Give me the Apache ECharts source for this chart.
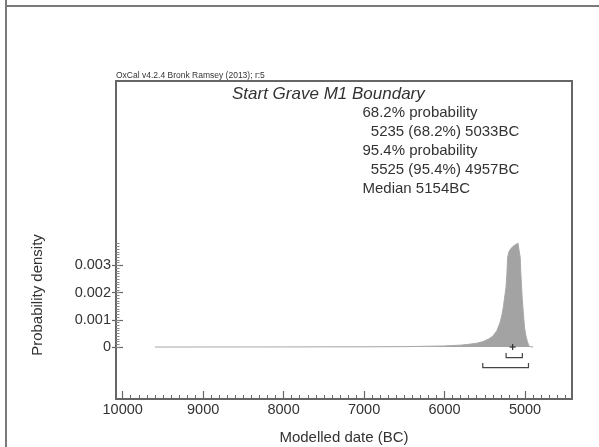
<!DOCTYPE html>
<html><head><meta charset="utf-8">
<script src="https://cdn.jsdelivr.net/npm/echarts@6/dist/echarts.min.js"></script>
<style>html,body{margin:0;padding:0;background:#fff}#c{width:599px;height:447px}</style>
</head><body><div id="c"></div>
<script>
// ---- data ----
const dates = [9599, 9000, 8000, 7000, 6500, 6200, 6000, 5800, 5700, 5600, 5520, 5450, 5400, 5350, 5310, 5285, 5268, 5250, 5236, 5225, 5216, 5200, 5180, 5150, 5124, 5100, 5088, 5075, 5060, 5050, 5035, 5021, 5005, 4988, 4970, 4959, 4945, 4938, 4900];
const density = [0, 0.000002, 0.000004, 0.000008, 0.000015, 0.00003, 0.00004, 0.00007, 0.0001, 0.00014, 0.0002, 0.0003, 0.0004, 0.0006, 0.0009, 0.0012, 0.0015, 0.0019, 0.0022, 0.0027, 0.0033, 0.0035, 0.0036, 0.0037, 0.00375, 0.0038, 0.00382, 0.0038, 0.0033, 0.0026, 0.0018, 0.00125, 0.0007, 0.0004, 0.0002, 0.0001, 0.00002, 0, 0];
const ranges = [[5235, 5033, 1], [5525, 4957, 2]]; // from, to, level
const median = [5154];
const xTickLabels = [10000, 9000, 8000, 7000, 6000, 5000];
const yTickLabels = [0, 0.001, 0.002, 0.003];
const titleText = 'Start Grave M1 Boundary';
const headerText = 'OxCal v4.2.4 Bronk Ramsey (2013); r:5';
const infoLines = ['68.2% probability', '  5235 (68.2%) 5033BC', '95.4% probability', '  5525 (95.4%) 4957BC', 'Median 5154BC'];

const xMinor = []; for (let v = 10000; v >= 4500; v -= 100) xMinor.push(v);
const yMinor = []; for (let i = 0; i <= 38; i++) yMinor.push(+(i * 0.0001).toFixed(4));

const FONT = '"Liberation Sans", Arial, Helvetica, sans-serif';
const TXT = '#333';
const LINE = '#666';
const XMIN = 4416, XMAX = 10083, YMIN = -0.00191, YMAX = 0.00978;

function xAx(extra) {
  return Object.assign({
    type: 'value', min: XMIN, max: XMAX, inverse: true, gridIndex: 0, position: 'bottom',
    axisLine: { show: false, onZero: false }, splitLine: { show: false },
    axisLabel: { show: false }, axisTick: { show: false }
  }, extra);
}
function yAx(extra) {
  return Object.assign({
    type: 'value', min: YMIN, max: YMAX, gridIndex: 0, position: 'left',
    axisLine: { show: false, onZero: false }, splitLine: { show: false },
    axisLabel: { show: false }, axisTick: { show: false }
  }, extra);
}

const chart = echarts.init(document.getElementById('c'), null, { renderer: 'canvas' });
const option = {
  animation: false,
  backgroundColor: '#fff',
  textStyle: { fontFamily: FONT },
  grid: { left: 116, right: 27, top: 81, bottom: 48, show: true, borderColor: '#666', borderWidth: 2, backgroundColor: 'transparent' },
  xAxis: [
    xAx({
      axisTick: { show: true, inside: true, length: 8, customValues: xTickLabels, lineStyle: { color: LINE, width: 1.2 } },
      axisLabel: { show: true, customValues: xTickLabels, margin: 3, color: TXT, fontSize: 14.5, fontFamily: FONT, formatter: v => String(v) }
    }),
    xAx({ axisTick: { show: true, inside: true, length: 4, customValues: xMinor, lineStyle: { color: LINE, width: 1 } } })
  ],
  yAxis: [
    yAx({
      axisTick: { show: true, inside: false, length: 4, customValues: yTickLabels, lineStyle: { color: LINE, width: 1.2 } },
      axisLabel: { show: true, customValues: yTickLabels, margin: 5, color: TXT, fontSize: 14.5, fontFamily: FONT, formatter: v => (v === 0 ? '0' : v.toFixed(3)) }
    }),
    yAx({ axisTick: { show: true, inside: true, length: 7, customValues: yTickLabels, lineStyle: { color: LINE, width: 1.2 } } }),
    yAx({ axisTick: { show: true, inside: true, length: 3.5, customValues: yMinor, lineStyle: { color: '#888', width: 1 } } })
  ],
  series: [
    {
      type: 'line', xAxisIndex: 0, yAxisIndex: 0, symbol: 'none', smooth: false,
      data: dates.map((d, i) => [d, density[i]]),
      lineStyle: { color: '#a8a8a8', width: 1 },
      areaStyle: { color: '#a3a3a3', opacity: 1, origin: 'auto' },
      z: 2
    },
    {
      type: 'custom', xAxisIndex: 0, yAxisIndex: 0, z: 3,
      data: ranges,
      renderItem: function (params, api) {
        const p1 = api.coord([api.value(0), 0]);
        const p2 = api.coord([api.value(1), 0]);
        const lvl = api.value(2);
        const top = p1[1] + (lvl === 1 ? 6 : 16);
        const bot = p1[1] + (lvl === 1 ? 10.5 : 20.5);
        return {
          type: 'polyline',
          shape: { points: [[p1[0], top], [p1[0], bot], [p2[0], bot], [p2[0], top]] },
          style: { stroke: '#444', lineWidth: 1.2, fill: null }
        };
      }
    },
    {
      type: 'custom', xAxisIndex: 0, yAxisIndex: 0, z: 4,
      data: median.map(m => [m, 0]),
      renderItem: function (params, api) {
        const p = api.coord([api.value(0), api.value(1)]);
        const s = 3;
        return {
          type: 'group', children: [
            { type: 'line', shape: { x1: p[0] - s, y1: p[1], x2: p[0] + s, y2: p[1] }, style: { stroke: '#333', lineWidth: 1.2 } },
            { type: 'line', shape: { x1: p[0], y1: p[1] - s, x2: p[0], y2: p[1] + s }, style: { stroke: '#333', lineWidth: 1.2 } }
          ]
        };
      }
    }
  ],
  graphic: [
    { type: 'line', shape: { x1: 6, y1: 0, x2: 6, y2: 447 }, style: { stroke: '#7a7a7a', lineWidth: 2 } },
    { type: 'line', shape: { x1: 5, y1: 6, x2: 599, y2: 6 }, style: { stroke: '#7a7a7a', lineWidth: 2 } },
    { type: 'text', x: 116, y: 75.5, style: { text: headerText, font: '8.5px ' + FONT, fill: TXT, textVerticalAlign: 'middle' } },
    { type: 'text', x: 232, y: 94, style: { text: titleText, font: 'italic 17px ' + FONT, fill: TXT, textVerticalAlign: 'middle' } },
    ...infoLines.map((t, i) => ({ type: 'text', x: 362.5, y: 113 + i * 18.9, style: { text: t, font: '15px ' + FONT, fill: TXT, textVerticalAlign: 'middle' } })),
    { type: 'text', x: 37.5, y: 295, rotation: Math.PI / 2, style: { text: 'Probability density', font: '15px ' + FONT, fill: TXT, textAlign: 'center', textVerticalAlign: 'middle' } },
    { type: 'text', x: 344, y: 438, style: { text: 'Modelled date (BC)', font: '15px ' + FONT, fill: TXT, textAlign: 'center', textVerticalAlign: 'middle' } }
  ]
};
chart.setOption(option);
</script></body></html>
